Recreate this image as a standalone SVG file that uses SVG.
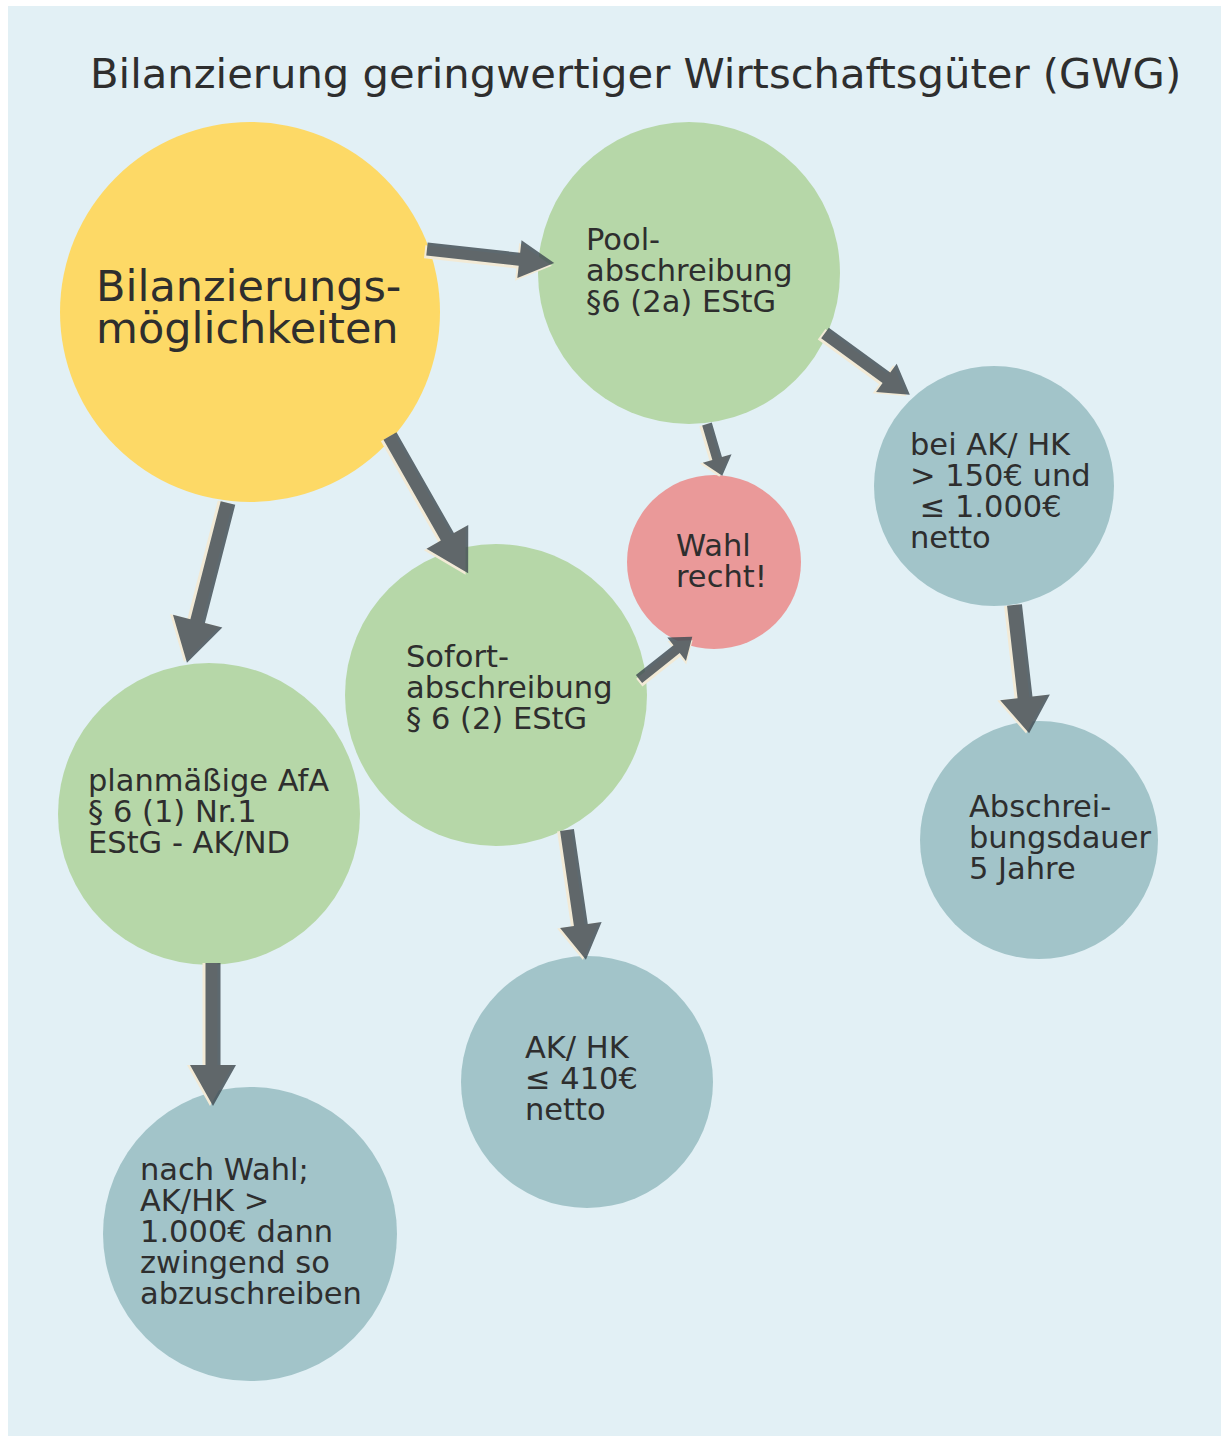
<svg xmlns="http://www.w3.org/2000/svg" width="1223" height="1436" viewBox="0 0 1223 1436">
<defs>
<style>
text{font-family:"DejaVu Sans","Verdana",sans-serif;fill:#2e2e2e}
.t{font-size:30.5px}
.yellow{fill:#fdd966}
.green{fill:#b6d7a8}
.teal{fill:#a2c4c9}
.red{fill:#ea9999}
.arr{fill:#3f4a52;fill-opacity:0.82}
.sh{fill:#f2ead6}
</style>
</defs>
<rect x="0" y="0" width="1223" height="1436" fill="#ffffff"/>
<rect x="8" y="6" width="1213" height="1430" fill="#e2f0f5"/>
<text x="90" y="88" font-size="41.7">Bilanzierung geringwertiger Wirtschaftsgüter (GWG)</text>

<g id="n-bilanz"><circle class="yellow" cx="250" cy="312" r="190"/>
<text font-size="43"><tspan x="96" y="301">Bilanzierungs-</tspan><tspan x="96" y="343">möglichkeiten</tspan></text></g>

<g id="n-pool"><circle class="green" cx="689" cy="273" r="151"/>
<text class="t"><tspan x="586" y="250">Pool-</tspan><tspan x="586" y="281">abschreibung</tspan><tspan x="586" y="312">§6 (2a) EStG</tspan></text></g>

<g id="n-wahl"><circle class="red" cx="714" cy="562" r="87"/>
<text class="t"><tspan x="676" y="556">Wahl</tspan><tspan x="676" y="587">recht!</tspan></text></g>

<g id="n-beiak"><circle class="teal" cx="994" cy="486" r="120"/>
<text class="t" xml:space="preserve"><tspan x="910" y="455">bei AK/ HK</tspan><tspan x="910" y="486">&gt; 150€ und</tspan><tspan x="910" y="517"> ≤ 1.000€</tspan><tspan x="910" y="548">netto</tspan></text></g>

<g id="n-dauer"><circle class="teal" cx="1039" cy="840" r="119"/>
<text class="t"><tspan x="969" y="817">Abschrei-</tspan><tspan x="969" y="848">bungsdauer</tspan><tspan x="969" y="879">5 Jahre</tspan></text></g>

<g id="n-sofort"><circle class="green" cx="496" cy="695" r="151"/>
<text class="t"><tspan x="406" y="667">Sofort-</tspan><tspan x="406" y="698">abschreibung</tspan><tspan x="406" y="729">§ 6 (2) EStG</tspan></text></g>

<g id="n-plan"><circle class="green" cx="209" cy="814" r="151"/>
<text class="t"><tspan x="88" y="791">planmäßige AfA</tspan><tspan x="88" y="822">§ 6 (1) Nr.1</tspan><tspan x="88" y="853">EStG - AK/ND</tspan></text></g>

<g id="n-nachwahl"><circle class="teal" cx="250" cy="1234" r="147"/>
<text class="t"><tspan x="140" y="1180">nach Wahl;</tspan><tspan x="140" y="1211">AK/HK &gt;</tspan><tspan x="140" y="1242">1.000€ dann</tspan><tspan x="140" y="1273">zwingend so</tspan><tspan x="140" y="1304">abzuschreiben</tspan></text></g>

<g id="n-410"><circle class="teal" cx="587" cy="1082" r="126"/>
<text class="t"><tspan x="525" y="1058">AK/ HK</tspan><tspan x="525" y="1089">≤ 410€</tspan><tspan x="525" y="1120">netto</tspan></text></g>

<g id="connectors">
<g transform="translate(427,249) rotate(6.3)"><polygon class="sh" transform="translate(-2,3)" points="0,-6.5 93,-6.5 93,-19 128,0 93,19 93,6.5 0,6.5"/><polygon class="arr" points="0,-6.5 93,-6.5 93,-19 128,0 93,19 93,6.5 0,6.5"/></g>
<g transform="translate(228,503) rotate(104.4)"><polygon class="sh" transform="translate(0,3)" points="0,-7.5 122,-7.5 122,-25.5 165,0 122,25.5 122,7.5 0,7.5"/><polygon class="arr" points="0,-7.5 122,-7.5 122,-25.5 165,0 122,25.5 122,7.5 0,7.5"/></g>
<g transform="translate(390,436) rotate(60.35)"><polygon class="sh" transform="translate(0,3)" points="0,-7.5 116,-7.5 116,-24 158,0 116,24 116,7.5 0,7.5"/><polygon class="arr" points="0,-7.5 116,-7.5 116,-24 158,0 116,24 116,7.5 0,7.5"/></g>
<g transform="translate(639,679) rotate(-38.4)"><polygon class="sh" transform="translate(-2,3)" points="0,-5 48,-5 48,-15 68,0 48,15 48,5 0,5"/><polygon class="arr" points="0,-5 48,-5 48,-15 68,0 48,15 48,5 0,5"/></g>
<g transform="translate(707,424) rotate(73.6)"><polygon class="sh" transform="translate(0,3)" points="0,-5 36,-5 36,-15 54,0 36,15 36,5 0,5"/><polygon class="arr" points="0,-5 36,-5 36,-15 54,0 36,15 36,5 0,5"/></g>
<g transform="translate(825,333) rotate(36.1)"><polygon class="sh" transform="translate(-2,3)" points="0,-6.5 76,-6.5 76,-17.5 105,0 76,17.5 76,6.5 0,6.5"/><polygon class="arr" points="0,-6.5 76,-6.5 76,-17.5 105,0 76,17.5 76,6.5 0,6.5"/></g>
<g transform="translate(1014.5,605) rotate(83.5)"><polygon class="sh" transform="translate(0,3)" points="0,-7.5 93,-7.5 93,-25 129,0 93,25 93,7.5 0,7.5"/><polygon class="arr" points="0,-7.5 93,-7.5 93,-25 129,0 93,25 93,7.5 0,7.5"/></g>
<g transform="translate(567,830) rotate(81.7)"><polygon class="sh" transform="translate(0,3)" points="0,-7 96,-7 96,-21 131,0 96,21 96,7 0,7"/><polygon class="arr" points="0,-7 96,-7 96,-21 131,0 96,21 96,7 0,7"/></g>
<g transform="translate(213,963) rotate(90)"><polygon class="sh" transform="translate(0,3)" points="0,-7.5 102,-7.5 102,-23 143,0 102,23 102,7.5 0,7.5"/><polygon class="arr" points="0,-7.5 102,-7.5 102,-23 143,0 102,23 102,7.5 0,7.5"/></g>
</g>
</svg>
